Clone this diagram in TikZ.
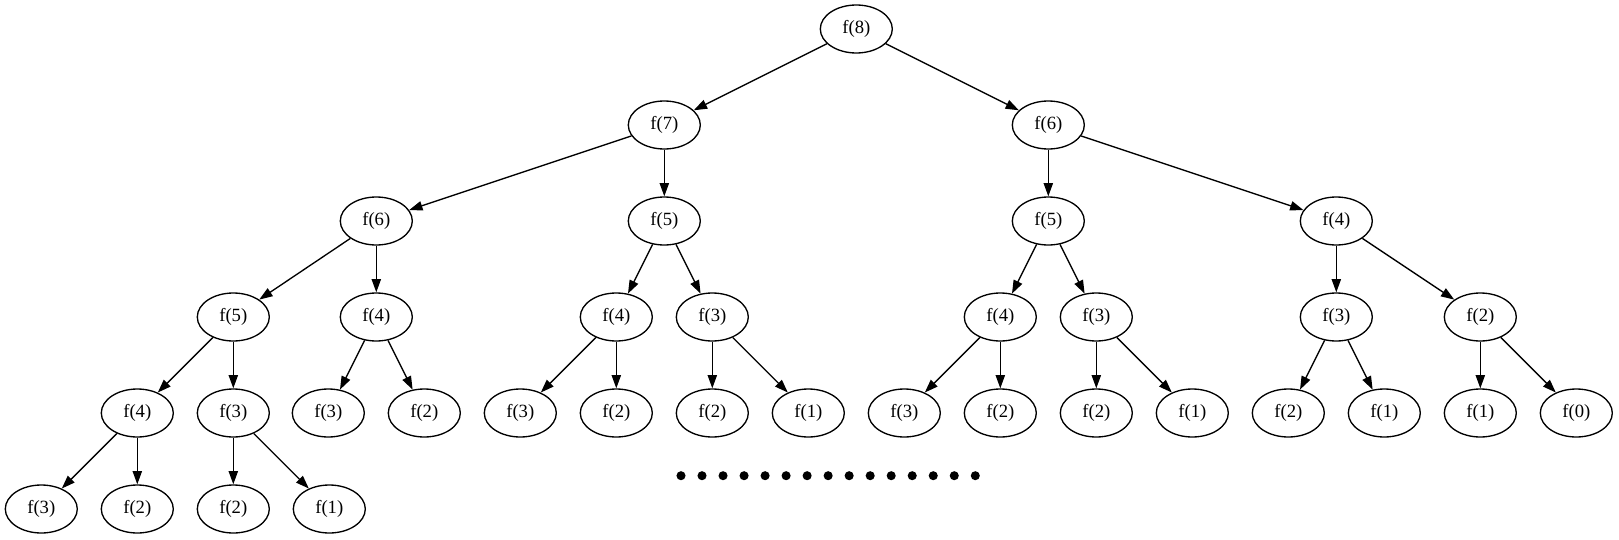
\documentclass[tikz,border=0pt]{standalone}
\usepackage{fontspec}
\setmainfont{Liberation Serif}
\usetikzlibrary{arrows.meta,shapes.geometric}
\tikzset{
  fn/.style={draw, ellipse, line width=1pt, minimum width=54pt, minimum height=36pt, inner sep=0pt, font=\fontsize{14}{16}\selectfont},
  conn/.style={draw, line width=1pt, -{Triangle[length=10pt,width=7pt]}},
  dotnode/.style={circle, fill=black, inner sep=0pt, minimum size=6.8pt}
}
\begin{document}
\begin{tikzpicture}[x=0.75pt,y=-0.75pt]
\useasboundingbox (0,0) rectangle (1619,539);
% level 0
\node[fn] (r) at (856.3,29) {f(8)};
% level 1
\node[fn] (a) at (664.3,125) {f(7)};
\node[fn] (b) at (1048.3,125) {f(6)};
% level 2
\node[fn] (aa) at (376.3,221) {f(6)};
\node[fn] (ab) at (664.3,221) {f(5)};
\node[fn] (ba) at (1048.3,221) {f(5)};
\node[fn] (bb) at (1336.3,221) {f(4)};
% level 3
\node[fn] (aaa) at (233.3,317) {f(5)};
\node[fn] (aab) at (376.3,317) {f(4)};
\node[fn] (aba) at (616.3,317) {f(4)};
\node[fn] (abb) at (712.3,317) {f(3)};
\node[fn] (baa) at (1000.3,317) {f(4)};
\node[fn] (bab) at (1096.3,317) {f(3)};
\node[fn] (bba) at (1336.3,317) {f(3)};
\node[fn] (bbb) at (1480.3,317) {f(2)};
% level 4
\node[fn] (aaaa) at (137.3,413) {f(4)};
\node[fn] (aaab) at (233.3,413) {f(3)};
\node[fn] (aaba) at (328.3,413) {f(3)};
\node[fn] (aabb) at (424.3,413) {f(2)};
\node[fn] (abaa) at (520.3,413) {f(3)};
\node[fn] (abab) at (616.3,413) {f(2)};
\node[fn] (abba) at (712.3,413) {f(2)};
\node[fn] (abbb) at (808.3,413) {f(1)};
\node[fn] (baaa) at (904.3,413) {f(3)};
\node[fn] (baab) at (1000.3,413) {f(2)};
\node[fn] (baba) at (1096.3,413) {f(2)};
\node[fn] (babb) at (1192.3,413) {f(1)};
\node[fn] (bbaa) at (1288.3,413) {f(2)};
\node[fn] (bbab) at (1384.3,413) {f(1)};
\node[fn] (bbba) at (1480.3,413) {f(1)};
\node[fn] (bbbb) at (1576.3,413) {f(0)};
% level 5
\node[fn] (aaaaa) at (41.3,509) {f(3)};
\node[fn] (aaaab) at (137.3,509) {f(2)};
\node[fn] (aaaba) at (233.3,509) {f(2)};
\node[fn] (aaabb) at (329.3,509) {f(1)};
% connectors
\foreach \p/\c in {r/a, r/b, a/aa, a/ab, b/ba, b/bb,
  aa/aaa, aa/aab, ab/aba, ab/abb, ba/baa, ba/bab, bb/bba, bb/bbb,
  aaa/aaaa, aaa/aaab, aab/aaba, aab/aabb, aba/abaa, aba/abab, abb/abba, abb/abbb,
  baa/baaa, baa/baab, bab/baba, bab/babb, bba/bbaa, bba/bbab, bbb/bbba, bbb/bbbb,
  aaaa/aaaaa, aaaa/aaaab, aaab/aaaba, aaab/aaabb}
  \draw[conn] (\p) -- (\c);
% dots
\foreach \i in {0,...,14}
  \node[dotnode] (d\i) at ({681+21.02*\i},475.7) {};
\end{tikzpicture}
\end{document}
